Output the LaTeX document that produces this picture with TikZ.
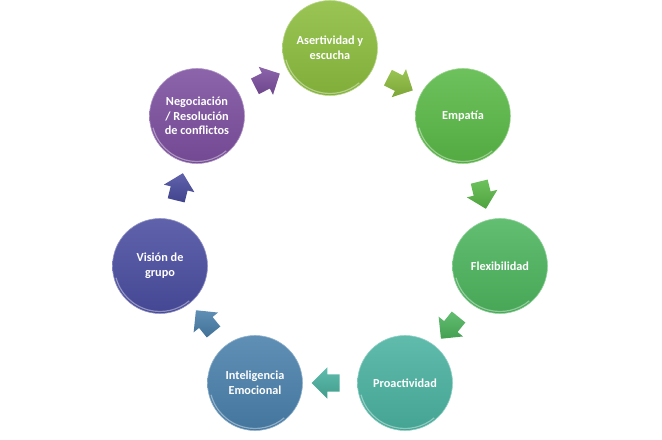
\documentclass[tikz,border=0pt]{standalone}
\usepackage{fontspec}
\setmainfont{Carlito}
\usetikzlibrary{calc,shapes.arrows}
\definecolor{cA}{HTML}{8CBD3E}
\definecolor{cE}{HTML}{5AB947}
\definecolor{cF}{HTML}{4DB55E}
\definecolor{cP}{HTML}{4AB2A0}
\definecolor{cI}{HTML}{4A80AB}
\definecolor{cV}{HTML}{4A4DA0}
\definecolor{cN}{HTML}{7C4F9F}
\newcommand\blkarrow[3]{\path let \p1=($(#2)-(#1)$), \n1={atan2(\y1,\x1)} in node[blk=#3, rotate=\n1] at ($(#1)!0.5!(#2)$) {};}
\newcommand\ballrim[1]{\draw[rim] ($(#1.center)+(195:45.5)$) arc[start angle=195, end angle=310, radius=45.5];}
\begin{document}
\begin{tikzpicture}[x=1bp,y=1bp,
  ball/.style={circle, minimum size=95bp, inner sep=0pt, draw=#1!60!white, line width=0.6bp,
    top color=#1!88!white, bottom color=#1!92!black, text=white, align=center,
    font=\fontsize{12.3}{14.8}\selectfont\bfseries},
  blk/.style={single arrow, single arrow head extend=7bp, minimum height=28bp,
    inner xsep=0pt, inner ysep=8.5bp, top color=#1!88!white, bottom color=#1!88!black, draw=none},
  rim/.style={white, opacity=0.4, line width=1.2bp}]
\useasboundingbox (0,0) rectangle (662,-440);
\node[ball=cA] (A) at (330,-48)  {Asertividad y\\escucha};
\node[ball=cE] (E) at (463,-116) {Empatía};
\node[ball=cF] (F) at (500,-266) {Flexibilidad};
\node[ball=cP] (P) at (405,-383) {Proactividad};
\node[ball=cI] (I) at (255,-383) {Inteligencia\\Emocional};
\node[ball=cV] (V) at (160,-266) {Visión de\\grupo};
\node[ball=cN] (N) at (197,-116) {Negociación\\/ Resolución\\de conflictos};
\ballrim{A}\ballrim{E}\ballrim{F}\ballrim{P}\ballrim{I}\ballrim{V}\ballrim{N}
\blkarrow{N}{A}{cN}
\blkarrow{A}{E}{cA}
\blkarrow{E}{F}{cE}
\blkarrow{F}{P}{cF}
\blkarrow{P}{I}{cP}
\blkarrow{I}{V}{cI}
\blkarrow{V}{N}{cV}
\end{tikzpicture}
\end{document}
